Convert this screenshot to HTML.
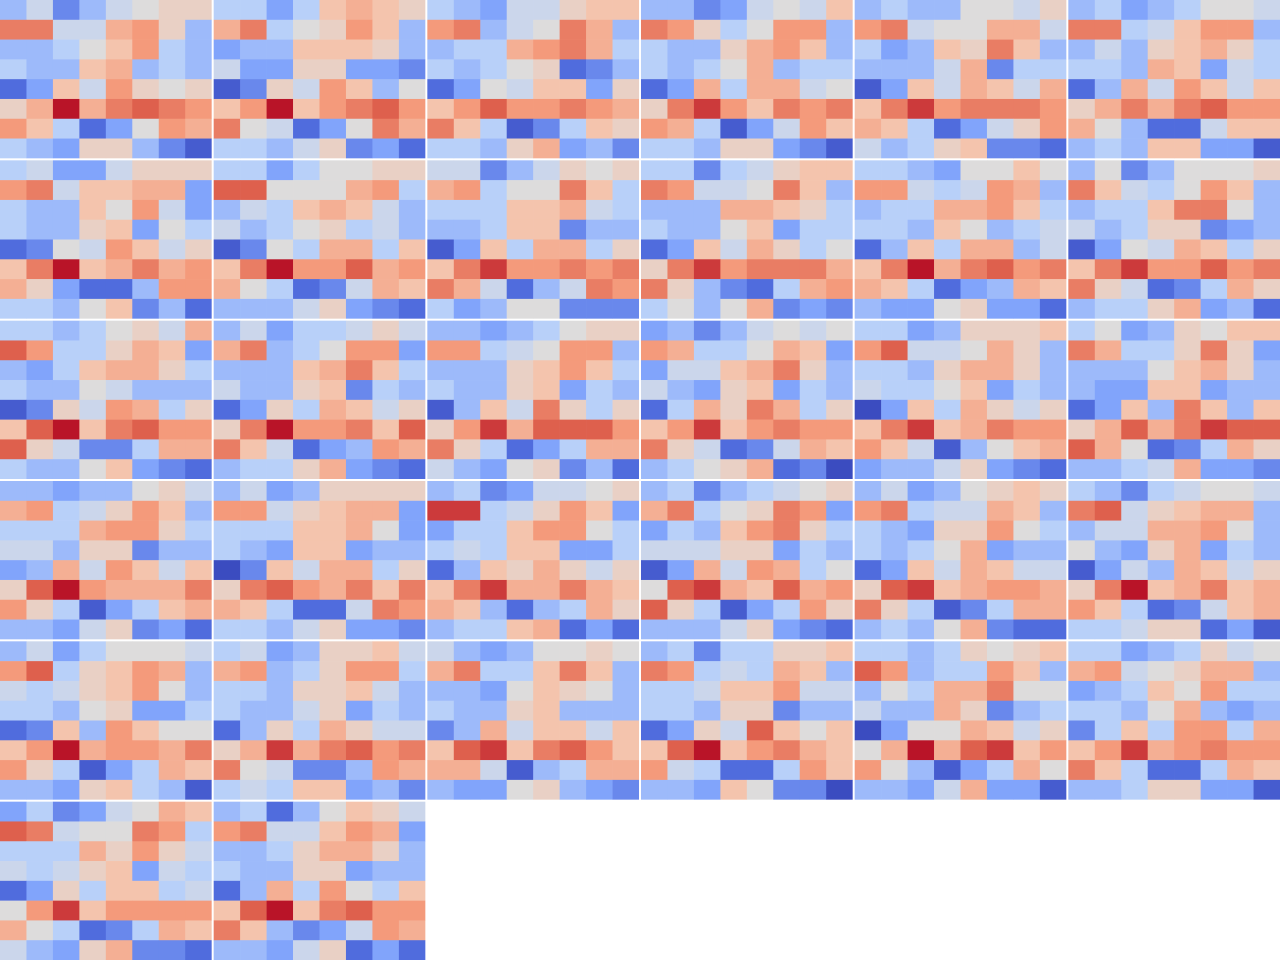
<!DOCTYPE html>
<html><head><meta charset="utf-8"><title>Heatmap grid</title>
<style>html,body{margin:0;padding:0;background:#fff;width:1280px;height:960px;overflow:hidden}svg{display:block}</style>
</head><body>
<svg id="chart" width="1280" height="960" xmlns="http://www.w3.org/2000/svg"></svg>
<script>
// Each panel: 8 rows x 8 columns; letters a..q encode value level 0..16 (a = min, i = mid, q = max)
const panelRows = [
"fhdfhijj nnhhlmjf ffgikmgf gffklfgf cekhmjij jlqlnonm mkgceiml gfejjfdb",
"ggegklkj lngijmkf effkkkjf heejjeed bdjhmkfi kmqkmnom nihceinl ggfhjdec",
"gfehhjkk mnfhinlf fgglmnlg gfgijcdf ceihkkej kmommnml nkgbdgkj ggfjlefd",
"ffdehihk nmjgimmf gffjlmkf gfgilfgg celgllhi jnpmknmn mlgbehmk ggfjjedb",
"fgffiihj mnhiillh gefkjnkf fffhldgg bekhlkhl knpmnnnm lkgcehjm hfgjkddc",
"fgefgiih nnghkmmf fhfjkljg ggflkehg cflhmkhk jlnlnomm lifcchkk fgfkkeeb",
"gheehjjj mnhkklle gffkimhe gffjkeig cdihmkhj knqklnlm ljeccfmm ggfikdfc",
"ggegiijj ooiiilmg fhgklkhf hfgijghf bdigllgk knqmmolm ligcdhlk fffhjedc",
"hhdfhjij lmgiinkg gggkklhg ffgkkdff bekgllgj knpmmnmn nlhcfhnm gefiiddd",
"ggdghjkk nmhhinkf fffllkjg gffikegg cekhljgi jnpmnnnl njfdcglm gifilded",
"ggfeiiki mmhghmlf fggllmkg ggfkifgh cfkgllfh knqlnomn lkgceflk feeijeec",
"fidfiiij nkhgimkf fggknnif hfgjjdef beihlkgj knpmmomn njhcdglj fggjlefc",
"ggfgijhl omggjlke fegklljg gffihfff bdjhmlgj koqknomm ojhddgll gffikedc",
"fhegghjh lnfgimme fffklnkg hffjkdgf cejglkhj jnqmmnko nkhcefml fggjledc",
"ffefgijj mmghimmf fffjkmkg gffjkegf bfkhnjgj jmplooom njgcegll hfeijdfc",
"efdfhihi mlggilke ehhklnjf hfejkegf cgljnlgj kmpkmnmm njhcdhlk fgijlcda",
"ggefjjjk mohhiljf ggfjlljf hggikegf aekgljhj knpklnmm mkhbfikl effhjedc",
"giefjikk nlggjnje fffikljf feekkeff cekfnkfk jlolnpoo olicdglj ffghleed",
"ffeffijh lmghjmkf ggglmmjg hhfjjdff eflhmkhk joqmllln mjgbegkl ffehjdec",
"fhefjjjj mmhjklle gggkklie gfekkeff adkhllgj jnomlnkn lkgcchnm ggfhjeed",
"fgdehhij ppghjmke eggkmmig ghgkkeeg cfkjljhj knpllnlk lkfcfglj fggklcec",
"fgdfghij lngijnme egfkmnjg hhhjjegf belhmlgi ioplkolm ojgbegmj fffhjedc",
"fhefijkj mnghhlkf gfejjmig gfgileff cekhlkhh jopklmml njgbdgll fgfildcc",
"gfdghiih nohjkllf fhhllmif ifejlegf behflkhj jnqklnkl mkgcdhkl gghjjceb",
"fhegiiih mogjkmlf hghjkmif ggfijeeg cdkfmkii kmqlmmln mjgbeglk ffejkgfb",
"ghefjjkh lmfgjmmg ggfjjkhf gffhjegf cfjgljhh jlplnomn nihddfml ghgkkefd",
"hfefiiji lnggknkf ffeikjif gffjkfff dflhkkhk kopknomk llhbfgll feeijfed",
"fgdggjjk nmghglkf gghkkmhh ggfjjdff cejhokik koqkmnlk mhgccgmk ffekidda",
"ggfgjijk omfggmkf figllnii hffljdfg aeiilkhj ilqlopkm mifbegli ffehleeb",
"ggefgjhi lmhijllf efgkimgg ggfilfef dgkgmmgl kmplmnmm nkgccglk ffgjjeeb",
"egdehilk onhiinmg gggljmjh hghjkehg cejgkkgh impkmmmm ligcdglk hfejlddc",
"fgcfikjh mnhhkmle ffgjlljf gffjjeff cflgmigk koqknomm nkfdehml ffehjcec"
];
// grid placement order (row-major, 6 columns)
const panelOrder = [0,1,2,3,4,5, 6,7,8,9,10,11, 12,13,14,15,16,17, 18,19,20,21,22,23, 24,25,26,27,28,29, 30,31];
const nRows = 8, nCols = 8, gridCols = 6;
</script>
<script>
const svg = document.getElementById('chart');
const NS = 'http://www.w3.org/2000/svg';
const stops = [[59,76,192],[80,108,221],[129,164,251],[184,208,249],[221,220,220],[244,196,173],[244,154,123],[222,96,77],[185,20,40]];
function cmap(t){
  t=Math.max(0,Math.min(1,t));
  const p=t*8, i=Math.min(7,Math.floor(p)), f=p-i;
  const a=stops[i], b=stops[i+1];
  return 'rgb('+a.map((v,k)=>Math.round(v+(b[k]-v)*f)).join(',')+')';
}
function parsePanel(s){
  const rows = s.trim().split(/\s+/);
  const out=[];
  for(let r=0;r<nRows;r++){
    const str = (rows[r]||'').replace(/[^a-q]/g,'');
    const row=[];
    for(let c=0;c<nCols;c++){ const ch=str[c]||'i'; row.push((ch.charCodeAt(0)-97)/16);}
    out.push(row);
  }
  return out;
}
const gap = 2;
const stepX = (1280+gap)/gridCols, panelW = stepX-gap;
const stepY = (960+gap)/6, panelH = stepY-gap;
function xScale(col, panelX){ return panelX + col*panelW/nCols; }
function yScale(row, panelY){ return panelY + row*panelH/nRows; }
panelOrder.forEach((pi,idx)=>{
  const gx = idx%gridCols, gy = Math.floor(idx/gridCols);
  const px = gx*stepX, py = gy*stepY;
  const g = document.createElementNS(NS,'g');
  
  
  svg.appendChild(g);
  const data = parsePanel(panelRows[pi]);
  for(let r=0;r<nRows;r++){
    for(let c=0;c<nCols;c++){
      const rect=document.createElementNS(NS,'rect');
      const x0=xScale(c,px), x1=xScale(c+1,px), y0=yScale(r,py), y1=yScale(r+1,py);
      const wExtra = c<nCols-1 ? 0.3 : 0, hExtra = r<nRows-1 ? 0.3 : 0;
      rect.setAttribute('x',x0.toFixed(2));
      rect.setAttribute('y',y0.toFixed(2));
      rect.setAttribute('width',(x1-x0+wExtra).toFixed(2));
      rect.setAttribute('height',(y1-y0+hExtra).toFixed(2));
      rect.setAttribute('fill',cmap(data[r][c]));
      
      
      g.appendChild(rect);
    }
  }
});
</script>
</body></html>
